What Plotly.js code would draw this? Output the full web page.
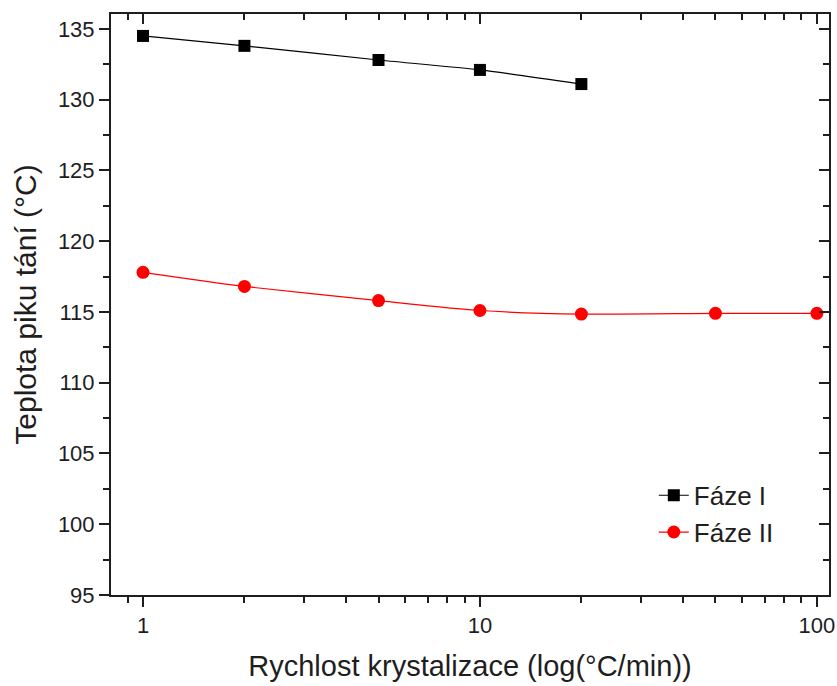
<!DOCTYPE html>
<html><head><meta charset="utf-8">
<script src="https://cdn.plot.ly/plotly-3.0.1.min.js"></script>
<style>html,body{margin:0;padding:0;background:#fff}</style>
</head><body>
<div id="chart" style="width:837px;height:686px"></div>
<script>
const rates1 = [1, 2, 5, 10, 20];
const faze1 = [134.5, 133.8, 132.8, 132.1, 131.1];
const rates2 = [1, 2, 5, 10, 20, 50, 100];
const faze2 = [117.8, 116.8, 115.8, 115.1, 114.85, 114.9, 114.9];
const xMajor = [1, 10, 100];
const xMinor = [0.9, 2, 3, 4, 5, 6, 7, 8, 9, 20, 30, 40, 50, 60, 70, 80, 90];
const yMajor = [95, 100, 105, 110, 115, 120, 125, 130, 135];
const names = ['Fáze I', 'Fáze II'];

const fam = 'Liberation Sans, Arial, sans-serif';
const ink = '#1e1e1e';
const traces = [
  {x: rates1, y: faze1, name: names[0], type: 'scatter', mode: 'lines+markers', legendgroup: 'a',
   line: {color: '#000', width: 1.2, shape: 'spline', smoothing: 0.5},
   marker: {symbol: 'square', size: 12, color: '#000'}},
  {x: rates2, y: faze2, name: names[1], type: 'scatter', mode: 'lines+markers', legendgroup: 'b',
   line: {color: '#ff0000', width: 1.2, shape: 'spline', smoothing: 0.6},
   marker: {symbol: 'circle', size: 13, color: '#ff0000'}}
];
const xr = [-0.095, 2.036];
const yr = [95, 136.05];
const tk = {ticklen: 10, tickwidth: 2, tickcolor: ink, showline: true, linewidth: 2, linecolor: ink,
            showgrid: false, zeroline: false};
const layout = {
  width: 837, height: 686,
  margin: {l: 111, r: 8, t: 14, b: 91},
  paper_bgcolor: '#fff', plot_bgcolor: '#fff',
  font: {family: fam, color: ink, size: 22},
  showlegend: true,
  legend: {x: 0.756, y: 0.212, xanchor: 'left', yanchor: 'top', bgcolor: 'rgba(0,0,0,0)',
           font: {family: fam, size: 26, color: ink}, traceorder: 'grouped', tracegroupgap: 0},
  xaxis: Object.assign({type: 'log', range: xr, tickvals: xMajor, ticktext: xMajor.map(String), ticks: 'outside',
          minor: {tickvals: xMinor, ticks: 'outside', ticklen: 6, tickwidth: 2, tickcolor: ink, showgrid: false},
          tickfont: {size: 22}, title: {text: 'Rychlost krystalizace (log(°C/min))', font: {size: 29}, standoff: 18}}, tk),
  xaxis2: Object.assign({type: 'log', range: xr, overlaying: 'x', side: 'top', anchor: 'y', tickvals: xMajor,
          showticklabels: false, ticks: 'inside',
          minor: {tickvals: xMinor, ticks: 'inside', ticklen: 6, tickwidth: 2, tickcolor: ink, showgrid: false}}, tk),
  yaxis: Object.assign({range: yr, tickvals: yMajor, ticks: 'outside',
          minor: {dtick: 2.5, tick0: 95, ticks: 'outside', ticklen: 6, tickwidth: 2, tickcolor: ink, showgrid: false},
          tickfont: {size: 22}, title: {text: 'Teplota piku tání (°C)', font: {size: 30}, standoff: 12}}, tk),
  yaxis2: Object.assign({range: yr, overlaying: 'y', side: 'right', anchor: 'x', tickvals: yMajor,
          showticklabels: false, ticks: 'inside',
          minor: {dtick: 2.5, tick0: 95, ticks: 'inside', ticklen: 6, tickwidth: 2, tickcolor: ink, showgrid: false}}, tk)
};
// invisible trace to activate the mirrored (top/right) axes
traces.push({x: [1], y: [95], xaxis: 'x2', yaxis: 'y2', type: 'scatter', mode: 'markers',
             marker: {opacity: 0}, showlegend: false, hoverinfo: 'skip'});
Plotly.newPlot('chart', traces, layout, {displayModeBar: false, staticPlot: true});
</script>
</body></html>
